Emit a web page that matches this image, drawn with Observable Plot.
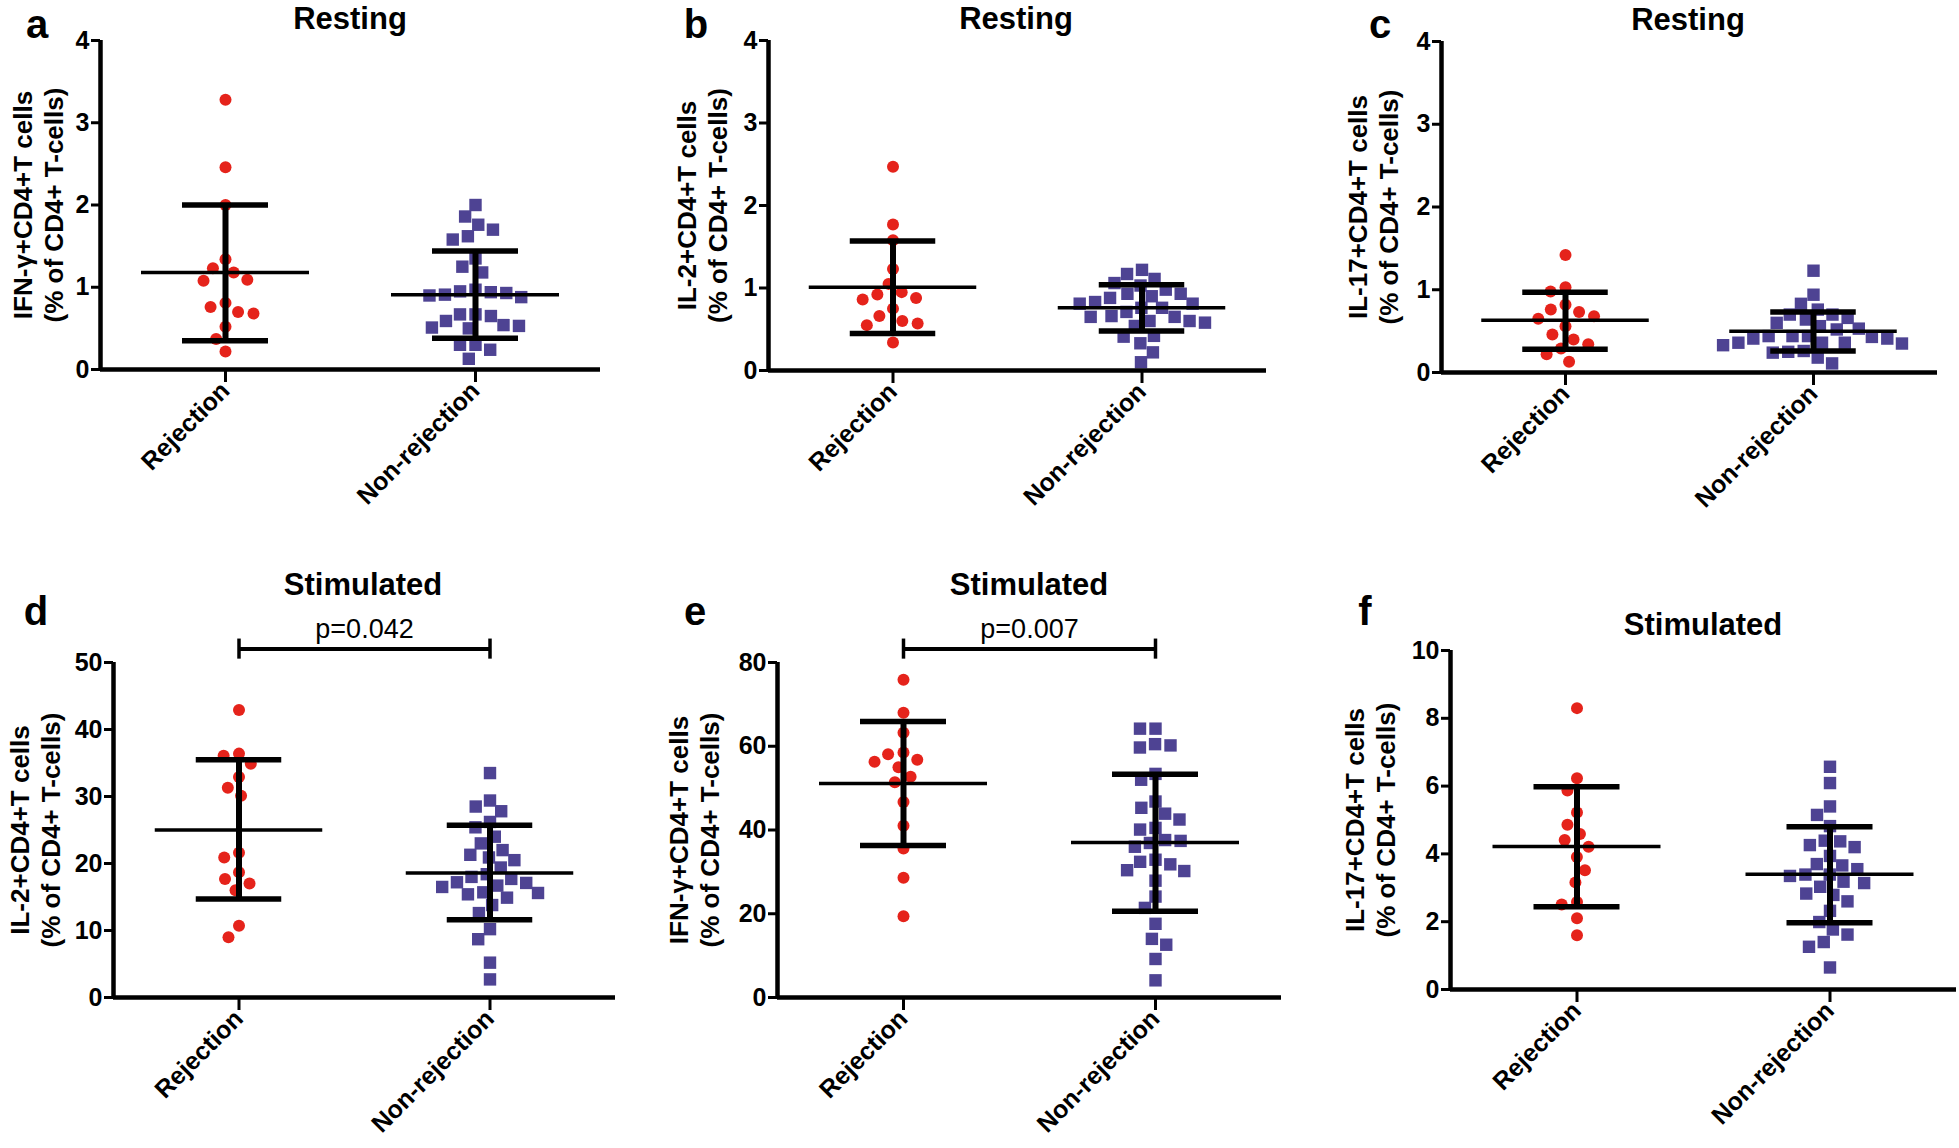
<!DOCTYPE html>
<html><head><meta charset="utf-8">
<script src="https://cdn.jsdelivr.net/npm/d3@7"></script>
<script src="https://cdn.jsdelivr.net/npm/@observablehq/plot@0.6"></script>
<style>
body{margin:0;background:#fff;}
#root{position:relative;width:1959px;height:1148px;overflow:hidden;background:#fff;font-family:"Liberation Sans",Arial,sans-serif;}
#root svg{position:absolute;overflow:visible;}
.lbl{position:absolute;font-weight:bold;color:#000;line-height:1;white-space:nowrap;transform:translateX(-50%);}
</style></head><body><div id="root"></div>
<script>
// ---------- categories & text ----------
const groups = ["Rejection", "Non-rejection"];
const letters = ["a", "b", "c", "d", "e", "f"];
const titles = ["Resting", "Resting", "Resting", "Stimulated", "Stimulated", "Stimulated"];
const yLabelTop = ["IFN-γ+CD4+T cells", "IL-2+CD4+T cells", "IL-17+CD4+T cells", "IL-2+CD4+T cells", "IFN-γ+CD4+T cells", "IL-17+CD4+T cells"];
const yLabelBottom = "(% of CD4+ T-cells)";
const yTicks = [[0,1,2,3,4],[0,1,2,3,4],[0,1,2,3,4],[0,10,20,30,40,50],[0,20,40,60,80],[0,2,4,6,8,10]];
const pLabels = [null, null, null, "p=0.042", "p=0.007", null];

// ---------- values ----------
const rejA = [3.28,2.46,2.00,1.34,1.23,1.18,1.09,1.08,0.81,0.76,0.70,0.68,0.52,0.37,0.22];
const nonA = [2.00,1.86,1.76,1.70,1.62,1.58,1.35,1.25,1.18,0.97,0.95,0.94,0.93,0.91,0.90,0.88,0.67,0.67,0.65,0.59,0.54,0.53,0.51,0.50,0.30,0.30,0.24,0.13];
const meanA = [1.18, 0.91], lowA = [0.35, 0.38], highA = [2.00, 1.44];

const rejB = [2.47,1.77,1.58,1.23,1.05,0.95,0.92,0.88,0.86,0.75,0.66,0.60,0.57,0.55,0.34];
const nonB = [1.22,1.17,1.11,1.06,1.03,0.98,0.93,0.93,0.90,0.88,0.83,0.81,0.81,0.76,0.76,0.71,0.66,0.65,0.65,0.60,0.60,0.58,0.54,0.42,0.41,0.33,0.22,0.10];
const meanB = [1.01, 0.76], lowB = [0.45, 0.48], highB = [1.57, 1.04];

const rejC = [1.42,1.03,0.98,0.82,0.76,0.73,0.68,0.65,0.56,0.46,0.40,0.34,0.29,0.22,0.13];
const nonC = [1.23,0.94,0.83,0.76,0.70,0.70,0.66,0.64,0.60,0.56,0.53,0.52,0.44,0.44,0.44,0.43,0.41,0.41,0.36,0.36,0.36,0.35,0.33,0.26,0.25,0.24,0.18,0.11];
const meanC = [0.63, 0.50], lowC = [0.28, 0.26], highC = [0.97, 0.73];

const rejD = [42.9,36.4,36.1,34.9,32.9,31.3,30.1,21.6,20.9,18.7,17.7,17.0,16.0,10.7,9.0];
const nonD = [33.5,29.4,28.5,27.8,26.2,25.4,24.0,23.0,22.0,21.3,20.9,20.5,19.4,18.4,18.0,17.7,17.2,17.1,16.7,16.5,15.7,15.6,15.4,14.9,13.8,12.6,10.2,8.7,5.2,2.7];
const meanD = [25.0, 18.6], lowD = [14.7, 11.6], highD = [35.5, 25.7];

const rejE = [75.9,68.0,63.2,58.5,58.1,56.8,56.3,55.0,52.7,51.4,46.7,41.0,35.6,28.6,19.4];
const nonE = [64.2,64.2,60.5,60.2,59.7,53.4,52.0,46.8,45.3,43.9,42.5,40.5,40.1,37.6,37.4,36.9,36.0,32.9,32.4,31.8,30.4,30.2,27.9,24.1,21.4,17.6,14.0,12.6,9.2,4.1];
const meanE = [51.1, 37.0], lowE = [36.3, 20.6], highE = [65.9, 53.3];

const rejF = [8.30,6.23,5.87,5.22,4.86,4.59,4.41,4.21,3.91,3.52,3.16,2.58,2.51,2.10,1.60];
const nonF = [6.57,6.09,5.40,5.15,4.82,4.39,4.37,4.26,4.20,3.94,3.70,3.66,3.55,3.39,3.39,3.35,3.18,3.14,3.03,2.83,2.79,2.60,2.32,1.99,1.77,1.62,1.40,1.26,0.65];
const meanF = [4.22, 3.40], lowF = [2.44, 1.97], highF = [5.98, 4.80];

const rejAll = [rejA, rejB, rejC, rejD, rejE, rejF];
const nonAll = [nonA, nonB, nonC, nonD, nonE, nonF];
const meanAll = [meanA, meanB, meanC, meanD, meanE, meanF];
const lowAll = [lowA, lowB, lowC, lowD, lowE, lowF];
const highAll = [highA, highB, highC, highD, highE, highF];

// ---------- layout (pixels) ----------
const layout = [
  {left:0,    top:0,   width:640, height:560, mL:100, mR:40, mT:40,  mB:191, letter:[37,38],   title:[350,29],   ylabDx:-63},
  {left:640,  top:0,   width:640, height:560, mL:127, mR:14, mT:40,  mB:190, letter:[696,38],  title:[1016,29],  ylabDx:-67},
  {left:1280, top:0,   width:679, height:560, mL:160, mR:22, mT:41,  mB:188, letter:[1380,38], title:[1688,30],  ylabDx:-69},
  {left:0,    top:560, width:640, height:588, mL:112, mR:25, mT:102, mB:151, letter:[36,625],  title:[363,595],  ylabDx:-79},
  {left:640,  top:560, width:650, height:588, mL:137, mR:9,  mT:102, mB:151, letter:[695,625], title:[1029,595], ylabDx:-84},
  {left:1290, top:560, width:669, height:588, mL:160, mR:3,  mT:90,  mB:159, letter:[1365,625],title:[1703,635], ylabDx:-81}
];

const RED = "#e5231b", PURPLE = "#4e4393";
const FONT = "'Liberation Sans', Arial, Helvetica, sans-serif";
const root = document.getElementById("root");

function addLabel(text, cx, baseline, size) {
  const d = document.createElement("div");
  d.className = "lbl";
  d.textContent = text;
  d.style.fontSize = size + "px";
  d.style.left = cx + "px";
  d.style.top = (baseline - 0.8465 * size) + "px";
  root.appendChild(d);
}

layout.forEach((L, i) => {
  const ticks = yTicks[i];
  const yMax = ticks[ticks.length - 1];
  const stats = groups.map((g, k) => ({group: g, mean: meanAll[i][k], lo: lowAll[i][k], hi: highAll[i][k]}));
  const fw = (L.width - L.mL - L.mR) / 2;
  const meanInset = fw / 2 - 84, capInset = fw / 2 - 43;

  const marks = [
    Plot.dot(rejAll[i], Plot.dodgeX({anchor: "middle", padding: 3.5}, {fx: () => "Rejection", y: d => d, r: 6, fill: RED, symbol: "circle"})),
    Plot.dot(nonAll[i], Plot.dodgeX({anchor: "middle", padding: 1.5}, {fx: () => "Non-rejection", y: d => d, r: 7, fill: PURPLE, symbol: "square"})),
    Plot.ruleX(stats, {fx: "group", x: 0, y1: "lo", y2: "hi", stroke: "black", strokeWidth: 6}),
    Plot.tickY(stats, {fx: "group", y: "mean", insetLeft: meanInset, insetRight: meanInset, stroke: "black", strokeWidth: 3.5}),
    Plot.tickY(stats, {fx: "group", y: "lo", insetLeft: capInset, insetRight: capInset, stroke: "black", strokeWidth: 5.5}),
    Plot.tickY(stats, {fx: "group", y: "hi", insetLeft: capInset, insetRight: capInset, stroke: "black", strokeWidth: 5.5}),
    Plot.ruleY([0], {stroke: "black", strokeWidth: 4.5}),
    Plot.ruleX([yMax], {fx: () => "Rejection", x: -1, y1: 0, y2: d => d, stroke: "black", strokeWidth: 4.5}),
    Plot.axisY(ticks, {tickSize: 9, tickPadding: 2, fontSize: 25, fontWeight: "bold", strokeWidth: 3, label: null, tickFormat: d => String(d)}),
    Plot.axisFx({anchor: "bottom", tickSize: 13, tickPadding: 4, tickRotate: -45, fontSize: 25, fontWeight: "bold", strokeWidth: 3, label: null}),
    Plot.text([yLabelTop[i] + "\n" + yLabelBottom], {fx: () => "Rejection", frameAnchor: "left", dx: L.ylabDx, rotate: -90, text: d => d, fontSize: 26, fontWeight: "bold", lineHeight: 1.2, textAnchor: "middle", lineAnchor: "middle"})
  ];

  if (pLabels[i]) {
    const yb = yMax * 1.04, ylo = yMax * 1.01, yhi = yMax * 1.07;
    marks.push(
      Plot.ruleY([yb], {fx: () => "Rejection", x1: 0, x2: 1, stroke: "black", strokeWidth: 4}),
      Plot.ruleY([yb], {fx: () => "Non-rejection", x1: -1, x2: 0, stroke: "black", strokeWidth: 4}),
      Plot.ruleX(groups, {fx: d => d, x: 0, y1: ylo, y2: yhi, stroke: "black", strokeWidth: 3.5}),
      Plot.text([pLabels[i]], {fx: () => "Rejection", x: 1, y: yhi, text: d => d, fontSize: 27, fontWeight: "normal", textAnchor: "middle", lineAnchor: "bottom", dy: -1})
    );
  }

  const svg = Plot.plot({
    width: L.width, height: L.height,
    marginLeft: L.mL, marginRight: L.mR, marginTop: L.mT, marginBottom: L.mB,
    style: {fontFamily: FONT, fontWeight: "bold", color: "black", background: "transparent", overflow: "visible"},
    x: {domain: [-1, 1], axis: null},
    y: {domain: [0, yMax]},
    fx: {domain: groups, padding: 0},
    marks
  });
  svg.style.left = L.left + "px";
  svg.style.top = L.top + "px";
  root.appendChild(svg);

  addLabel(letters[i], L.letter[0], L.letter[1], 40);
  addLabel(titles[i], L.title[0], L.title[1], 31);
});
</script>
</body></html>
